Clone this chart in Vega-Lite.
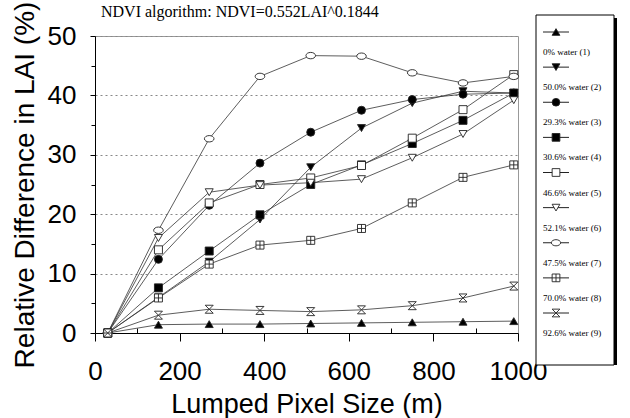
{
  "$schema": "https://vega.github.io/schema/vega-lite/v6.json",
  "padding": {"left": 10, "top": 0, "right": 0, "bottom": 0},
  "background": "white",
  "config": {"view": {"stroke": null}, "font": "Liberation Sans"},
  "bounds": "flush",
  "spacing": 18,
  "resolve": {"scale": {"x": "independent", "y": "independent", "shape": "independent", "fill": "independent"}},
  "datasets": {
    "main": [
      {"x": 30, "y": 0, "s": "0% water (1)"}, {"x": 150, "y": 1.4, "s": "0% water (1)"}, {"x": 270, "y": 1.5, "s": "0% water (1)"}, {"x": 390, "y": 1.5, "s": "0% water (1)"}, {"x": 510, "y": 1.6, "s": "0% water (1)"}, {"x": 630, "y": 1.7, "s": "0% water (1)"}, {"x": 750, "y": 1.8, "s": "0% water (1)"}, {"x": 870, "y": 1.9, "s": "0% water (1)"}, {"x": 990, "y": 2.0, "s": "0% water (1)"},
      {"x": 30, "y": 0, "s": "50.0% water (2)"}, {"x": 150, "y": 6.0, "s": "50.0% water (2)"}, {"x": 270, "y": 12.0, "s": "50.0% water (2)"}, {"x": 390, "y": 19.1, "s": "50.0% water (2)"}, {"x": 510, "y": 27.9, "s": "50.0% water (2)"}, {"x": 630, "y": 34.5, "s": "50.0% water (2)"}, {"x": 750, "y": 38.7, "s": "50.0% water (2)"}, {"x": 870, "y": 40.7, "s": "50.0% water (2)"}, {"x": 990, "y": 40.4, "s": "50.0% water (2)"},
      {"x": 30, "y": 0, "s": "29.3% water (3)"}, {"x": 150, "y": 12.4, "s": "29.3% water (3)"}, {"x": 270, "y": 21.5, "s": "29.3% water (3)"}, {"x": 390, "y": 28.6, "s": "29.3% water (3)"}, {"x": 510, "y": 33.8, "s": "29.3% water (3)"}, {"x": 630, "y": 37.5, "s": "29.3% water (3)"}, {"x": 750, "y": 39.3, "s": "29.3% water (3)"}, {"x": 870, "y": 40.2, "s": "29.3% water (3)"}, {"x": 990, "y": 40.4, "s": "29.3% water (3)"},
      {"x": 30, "y": 0, "s": "30.6% water (4)"}, {"x": 150, "y": 7.6, "s": "30.6% water (4)"}, {"x": 270, "y": 13.8, "s": "30.6% water (4)"}, {"x": 390, "y": 19.9, "s": "30.6% water (4)"}, {"x": 510, "y": 25.0, "s": "30.6% water (4)"}, {"x": 630, "y": 28.3, "s": "30.6% water (4)"}, {"x": 750, "y": 31.9, "s": "30.6% water (4)"}, {"x": 870, "y": 35.8, "s": "30.6% water (4)"}, {"x": 990, "y": 40.4, "s": "30.6% water (4)"},
      {"x": 30, "y": 0, "s": "46.6% water (5)"}, {"x": 150, "y": 14.0, "s": "46.6% water (5)"}, {"x": 270, "y": 21.9, "s": "46.6% water (5)"}, {"x": 390, "y": 25.0, "s": "46.6% water (5)"}, {"x": 510, "y": 26.1, "s": "46.6% water (5)"}, {"x": 630, "y": 28.2, "s": "46.6% water (5)"}, {"x": 750, "y": 32.8, "s": "46.6% water (5)"}, {"x": 870, "y": 37.6, "s": "46.6% water (5)"}, {"x": 990, "y": 43.5, "s": "46.6% water (5)"},
      {"x": 30, "y": 0, "s": "52.1% water (6)"}, {"x": 150, "y": 16.0, "s": "52.1% water (6)"}, {"x": 270, "y": 23.7, "s": "52.1% water (6)"}, {"x": 390, "y": 24.9, "s": "52.1% water (6)"}, {"x": 510, "y": 25.3, "s": "52.1% water (6)"}, {"x": 630, "y": 25.9, "s": "52.1% water (6)"}, {"x": 750, "y": 29.5, "s": "52.1% water (6)"}, {"x": 870, "y": 33.5, "s": "52.1% water (6)"}, {"x": 990, "y": 39.2, "s": "52.1% water (6)"},
      {"x": 30, "y": 0, "s": "47.5% water (7)"}, {"x": 150, "y": 17.3, "s": "47.5% water (7)"}, {"x": 270, "y": 32.7, "s": "47.5% water (7)"}, {"x": 390, "y": 43.2, "s": "47.5% water (7)"}, {"x": 510, "y": 46.7, "s": "47.5% water (7)"}, {"x": 630, "y": 46.6, "s": "47.5% water (7)"}, {"x": 750, "y": 43.8, "s": "47.5% water (7)"}, {"x": 870, "y": 42.1, "s": "47.5% water (7)"}, {"x": 990, "y": 43.2, "s": "47.5% water (7)"},
      {"x": 30, "y": 0, "s": "70.0% water (8)"}, {"x": 150, "y": 5.9, "s": "70.0% water (8)"}, {"x": 270, "y": 11.6, "s": "70.0% water (8)"}, {"x": 390, "y": 14.8, "s": "70.0% water (8)"}, {"x": 510, "y": 15.6, "s": "70.0% water (8)"}, {"x": 630, "y": 17.6, "s": "70.0% water (8)"}, {"x": 750, "y": 21.9, "s": "70.0% water (8)"}, {"x": 870, "y": 26.2, "s": "70.0% water (8)"}, {"x": 990, "y": 28.3, "s": "70.0% water (8)"},
      {"x": 30, "y": 0, "s": "92.6% water (9)"}, {"x": 150, "y": 3.0, "s": "92.6% water (9)"}, {"x": 270, "y": 4.0, "s": "92.6% water (9)"}, {"x": 390, "y": 3.8, "s": "92.6% water (9)"}, {"x": 510, "y": 3.6, "s": "92.6% water (9)"}, {"x": 630, "y": 3.9, "s": "92.6% water (9)"}, {"x": 750, "y": 4.6, "s": "92.6% water (9)"}, {"x": 870, "y": 5.9, "s": "92.6% water (9)"}, {"x": 990, "y": 7.9, "s": "92.6% water (9)"}
    ],
    "legend": [
      {"s": "0% water (1)"}, {"s": "50.0% water (2)"}, {"s": "29.3% water (3)"}, {"s": "30.6% water (4)"}, {"s": "46.6% water (5)"}, {"s": "52.1% water (6)"}, {"s": "47.5% water (7)"}, {"s": "70.0% water (8)"}, {"s": "92.6% water (9)"}
    ],
    "box": [{"k": 1}]
  },
  "hconcat": [
    {
      "width": 423,
      "height": 297,
      "title": {"text": "NDVI algorithm: NDVI=0.552LAI^0.1844", "anchor": "start", "frame": "group", "font": "Liberation Serif", "fontSize": 16, "fontWeight": "normal", "color": "black", "dx": 6, "offset": -19},
      "view": {"stroke": "#999", "strokeWidth": 1},
      "data": {"name": "main"},
      "encoding": {
        "x": {"field": "x", "type": "quantitative", "title": "Lumped Pixel Size (m)",
          "scale": {"domain": [0, 1000], "nice": false},
          "axis": {"values": [0, 100, 200, 300, 400, 500, 600, 700, 800, 900, 1000], "format": "d", "labelExpr": "datum.value % 200 === 0 ? datum.label : ''", "grid": false, "labelFont": "Liberation Sans", "labelFontSize": 26, "labelColor": "black", "labelPadding": 17, "labelFlush": false, "labelOverlap": false,
            "tickSize": {"condition": {"test": "datum.value % 200 === 0", "value": 8}, "value": -5}, "tickColor": "black", "domainColor": "black", "titleFont": "Liberation Sans", "titleFontSize": 27, "titleFontWeight": "normal", "titleColor": "black", "titlePadding": 7}},
        "y": {"field": "y", "type": "quantitative", "title": "Relative Difference in LAI (%)",
          "scale": {"domain": [0, 50], "nice": false},
          "axis": {"values": [0, 5, 10, 15, 20, 25, 30, 35, 40, 45, 50], "labelExpr": "datum.value % 10 === 0 ? datum.label : ''", "grid": true, "gridColor": "#888", "gridDash": [2, 3],
            "gridOpacity": {"condition": {"test": "datum.value % 10 === 0", "value": 1}, "value": 0},
            "labelFont": "Liberation Sans", "labelFontSize": 26, "labelColor": "black", "labelPadding": 14, "labelOverlap": false,
            "tickSize": {"condition": {"test": "datum.value % 10 === 0", "value": 5}, "value": 4}, "tickColor": "black", "domainColor": "black", "titleFont": "Liberation Sans", "titleFontSize": 28, "titleFontWeight": "normal", "titleColor": "black", "titlePadding": 8}}
      },
      "layer": [
        {"mark": {"type": "line", "color": "#333", "strokeWidth": 0.8}, "encoding": {"detail": {"field": "s"}}},
        {"mark": {"type": "point", "size": 64, "stroke": "#222", "strokeWidth": 0.9, "opacity": 1, "fillOpacity": 1},
          "encoding": {
            "shape": {"field": "s", "type": "nominal", "legend": null, "scale": {"domain": ["0% water (1)", "50.0% water (2)", "29.3% water (3)", "30.6% water (4)", "46.6% water (5)", "52.1% water (6)", "47.5% water (7)", "70.0% water (8)", "92.6% water (9)"], "range": ["triangle-up", "triangle-down", "circle", "square", "square", "triangle-down", "M-1.2,0A1.2,0.8 0 1,0 1.2,0A1.2,0.8 0 1,0 -1.2,0Z", "M-1,-1H1V1H-1Z M0,-1V1 M-1,0H1", "M-1,-1H1L-1,1H1Z"]}},
            "fill": {"field": "s", "type": "nominal", "legend": null, "scale": {"domain": ["0% water (1)", "50.0% water (2)", "29.3% water (3)", "30.6% water (4)", "46.6% water (5)", "52.1% water (6)", "47.5% water (7)", "70.0% water (8)", "92.6% water (9)"], "range": ["black", "black", "black", "black", "white", "white", "white", "white", "white"]}}
          }}
      ]
    },
    {
      "width": 78,
      "height": 329,
      "layer": [
        {"data": {"name": "box"}, "mark": {"type": "rect", "color": "black", "xOffset": 3, "x2Offset": 3, "yOffset": -18, "y2Offset": -18}, "encoding": {}},
        {"data": {"name": "box"}, "mark": {"type": "rect", "fill": "white", "stroke": "black", "strokeWidth": 1, "yOffset": -21, "y2Offset": -21}, "encoding": {}},
        {"data": {"name": "legend"}, "mark": {"type": "point", "shape": "stroke", "size": 676, "stroke": "#222", "strokeWidth": 1, "opacity": 1, "xOffset": -19},
          "encoding": {"y": {"field": "s", "type": "nominal", "axis": null, "sort": null, "scale": {"type": "point", "padding": 0, "domain": ["0% water (1)", "50.0% water (2)", "29.3% water (3)", "30.6% water (4)", "46.6% water (5)", "52.1% water (6)", "47.5% water (7)", "70.0% water (8)", "92.6% water (9)"], "range": [-4, 277]}}}},
        {"data": {"name": "legend"}, "mark": {"type": "point", "size": 60, "stroke": "#222", "strokeWidth": 0.9, "opacity": 1, "fillOpacity": 1, "xOffset": -19},
          "encoding": {
            "y": {"field": "s", "type": "nominal", "axis": null, "sort": null},
            "shape": {"field": "s", "type": "nominal", "legend": null, "scale": {"domain": ["0% water (1)", "50.0% water (2)", "29.3% water (3)", "30.6% water (4)", "46.6% water (5)", "52.1% water (6)", "47.5% water (7)", "70.0% water (8)", "92.6% water (9)"], "range": ["triangle-up", "triangle-down", "circle", "square", "square", "triangle-down", "M-1.2,0A1.2,0.8 0 1,0 1.2,0A1.2,0.8 0 1,0 -1.2,0Z", "M-1,-1H1V1H-1Z M0,-1V1 M-1,0H1", "M-1,-1H1L-1,1H1Z"]}},
            "fill": {"field": "s", "type": "nominal", "legend": null, "scale": {"domain": ["0% water (1)", "50.0% water (2)", "29.3% water (3)", "30.6% water (4)", "46.6% water (5)", "52.1% water (6)", "47.5% water (7)", "70.0% water (8)", "92.6% water (9)"], "range": ["black", "black", "black", "black", "white", "white", "white", "white", "white"]}}
          }},
        {"data": {"name": "legend"}, "mark": {"type": "text", "font": "Liberation Serif", "fontSize": 9, "align": "left", "dx": -32, "dy": 20, "color": "black"},
          "encoding": {"y": {"field": "s", "type": "nominal", "axis": null, "sort": null}, "text": {"field": "s"}}}
      ]
    }
  ]
}
